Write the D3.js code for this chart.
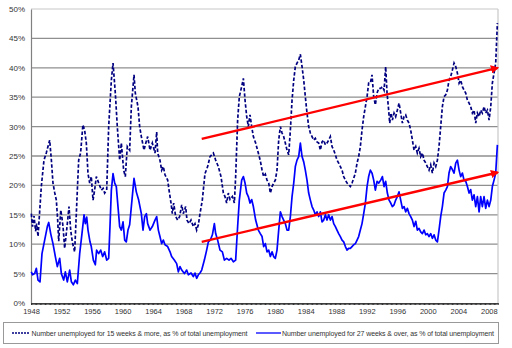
<!DOCTYPE html>
<html><head><meta charset="utf-8">
<script src="https://cdn.jsdelivr.net/npm/d3@7"></script>
<style>html,body{margin:0;padding:0;background:#fff;}svg{display:block;font-family:Arial,"Liberation Sans",sans-serif;}</style>
</head><body>
<svg id="c" width="512" height="348"></svg>
<script>
// ---- data ----
const yTicks = [0,5,10,15,20,25,30,35,40,45,50];
const xLabelYears = [1948,1952,1956,1960,1964,1968,1972,1976,1980,1984,1988,1992,1996,2000,2004,2008];

const years15 = [1948.04,1948.2,1948.4,1948.6,1948.75,1948.92,1949.35,1949.7,1950.0,1950.2,1950.45,1950.67,1950.88,1951.1,1951.32,1951.5,1951.63,1951.9,1952.05,1952.2,1952.41,1952.6,1952.76,1952.98,1953.2,1953.35,1953.5,1953.72,1953.9,1954.1,1954.25,1954.5,1954.8,1955.03,1955.25,1955.47,1955.69,1955.9,1956.13,1956.34,1956.56,1956.87,1957.22,1957.45,1957.65,1957.92,1958.18,1958.53,1958.75,1959.05,1959.31,1959.62,1959.84,1960.14,1960.36,1960.62,1960.93,1961.15,1961.5,1961.67,1962.02,1962.24,1962.46,1962.81,1963.0,
1963.29,1963.6,1963.9,1964.25,1964.47,1964.6,1964.9,1965.12,1965.34,1965.56,1965.91,1966.09,1966.35,1966.52,1966.7,1966.96,1967.22,1967.48,1967.75,1967.96,1968.27,1968.44,1968.71,1968.97,1969.27,1969.49,1969.71,1969.93,1970.15,1970.45,1970.8,1971.15,1971.46,1971.9,1972.2,1972.55,1972.9,1973.21,1973.42,1973.64,1973.86,1974.08,1974.39,1974.65,1974.82,1975.08,1975.3,1975.61,1975.83,1976.05,1976.27,1976.48,1976.7,1976.92,1977.14,1977.44,1977.79,1978.05,
1978.28,1978.49,1978.71,1978.93,1979.15,1979.37,1979.59,1979.8,1980.02,1980.24,1980.46,1980.68,1980.9,1981.11,1981.33,1981.55,1981.77,1981.99,1982.21,1982.43,1982.64,1982.86,1983.08,1983.3,1983.52,1983.74,1983.95,1984.17,1984.39,1984.61,1984.83,1985.05,1985.26,1985.48,1985.7,1985.92,1986.14,1986.36,1986.58,1986.79,1987.01,1987.23,1987.45,1987.67,1987.89,1988.1,1988.32,1988.54,1988.76,1988.98,1989.2,1989.42,1989.63,1989.85,1990.07,1990.29,1990.51,1990.73,1990.94,1991.16,1991.38,1991.6,1991.82,1992.04,1992.25,1992.47,1992.69,1992.91,1993.13,1993.35,1993.57,
1993.83,1994.05,1994.27,1994.48,1994.66,1994.83,1995.01,1995.18,1995.36,1995.58,1995.79,1996.01,1996.23,1996.45,1996.67,1996.89,1997.1,1997.32,1997.54,1997.76,1997.98,1998.2,1998.42,1998.63,1998.85,1999.07,1999.29,1999.51,1999.73,1999.94,2000.16,2000.38,2000.6,2000.82,2001.04,2001.26,2001.47,2001.69,2001.91,2002.13,2002.35,2002.57,2002.78,2003.0,2003.22,2003.44,2003.66,2003.88,2004.1,2004.31,2004.53,2004.75,2004.97,2005.19,2005.41,2005.62,2005.84,2006.06,2006.28,2006.5,2006.72,2006.93,2007.15,2007.37,2007.59,2007.81,2008.03,2008.25,2008.46,2008.68,2008.9,2009.12];
const pct15 = [15.2,13.0,14.8,12.2,13.5,11.3,19.8,24.3,25.5,26.5,27.7,24.3,20.4,18.8,17.5,14.0,10.5,15.8,14.5,13.0,9.3,11.5,13.5,16.4,12.4,11.0,9.9,8.7,14.0,20.0,24.3,25.5,30.3,29.4,27.2,22.0,20.4,21.5,17.5,19.2,21.5,20.4,19.2,19.5,18.7,19.2,30.0,37.9,40.8,35.7,30.0,24.3,27.2,22.6,21.5,26.6,26.0,33.4,38.8,35.7,33.4,30.0,28.3,26.0,27.0,
28.3,26.0,27.2,25.5,29.1,25.5,24.3,22.6,23.2,21.8,20.9,19.2,17.0,15.2,17.0,14.7,14.1,14.7,16.7,15.2,16.4,14.1,13.5,14.1,13.0,13.5,12.4,13.3,15.2,17.5,22.0,23.2,24.9,25.5,24.3,23.2,21.5,18.7,18.1,17.0,18.7,17.6,18.1,17.0,21.5,31.1,35.1,36.8,38.2,34.5,31.7,30.0,32.0,30.0,28.3,27.2,25.5,24.2,
22.6,21.5,21.9,20.9,20.4,18.7,19.8,20.4,20.9,22.6,27.7,30.0,28.9,28.3,27.2,26.0,25.2,29.4,34.5,37.9,40.2,40.8,41.3,42.3,40.2,37.9,35.1,32.3,30.0,28.9,28.3,27.7,28.0,27.4,27.2,26.0,27.4,27.7,26.9,27.2,27.7,28.3,26.6,26.0,25.2,24.3,23.8,23.2,22.6,21.5,20.9,20.4,20.1,19.8,20.4,21.2,22.1,23.8,24.9,26.6,29.4,31.7,33.4,35.1,37.4,37.4,38.8,35.1,33.7,35.7,36.5,
36.5,36.8,36.2,40.2,35.7,33.4,30.6,32.3,31.1,32.3,31.7,32.8,34.0,32.3,30.6,31.7,32.0,31.1,30.6,29.4,27.7,26.0,26.6,25.5,26.3,24.9,25.5,24.3,23.8,23.2,22.6,23.5,22.1,23.8,23.2,24.3,26.6,30.0,33.4,35.1,35.4,36.2,37.9,38.5,39.6,40.8,40.2,39.1,37.4,37.9,36.8,36.2,35.7,34.5,34.0,33.4,32.3,32.8,30.6,32.3,31.7,32.8,32.3,33.4,32.3,32.8,31.1,33.4,37.4,39.1,40.8,47.6];

const years27 = [1948.04,1948.2,1948.48,1948.7,1948.92,1949.18,1949.44,1949.79,1950.14,1950.32,1950.58,1950.88,1951.19,1951.45,1951.76,1951.98,1952.28,1952.5,1952.76,1953.07,1953.29,1953.55,1953.81,1954.07,1954.38,1954.68,1954.95,1955.12,1955.3,1955.47,1955.73,1955.9,1956.17,1956.43,1956.6,1956.87,1957.13,1957.39,1957.65,1957.92,1958.18,1958.35,1958.53,1958.75,1958.97,1959.18,1959.4,1959.62,1959.84,1960.06,1960.28,1960.49,1960.71,1960.93,1961.15,1961.5,1961.8,1962.11,1962.46,1962.68,1962.9,1963.12,
1963.29,1963.6,1963.9,1964.25,1964.47,1964.69,1964.9,1965.12,1965.34,1965.56,1965.91,1966.22,1966.43,1966.78,1967.09,1967.31,1967.53,1967.75,1968.1,1968.4,1968.62,1968.97,1969.27,1969.49,1969.71,1969.93,1970.15,1970.37,1970.72,1971.02,1971.24,1971.5,1971.77,1972.03,1972.2,1972.46,1972.77,1973.08,1973.34,1973.64,1973.95,1974.21,1974.52,1974.82,1975.08,1975.3,1975.61,1975.83,1976.05,1976.27,1976.48,1976.7,1976.92,1977.14,1977.44,1977.79,1978.05,
1978.28,1978.49,1978.71,1978.93,1979.15,1979.37,1979.59,1979.8,1980.02,1980.24,1980.46,1980.68,1980.9,1981.11,1981.33,1981.55,1981.77,1981.99,1982.21,1982.43,1982.64,1982.86,1983.08,1983.3,1983.52,1983.74,1983.95,1984.17,1984.39,1984.61,1984.83,1985.05,1985.26,1985.48,1985.7,1985.92,1986.14,1986.36,1986.58,1986.79,1987.01,1987.23,1987.45,1987.67,1987.89,1988.1,1988.32,1988.54,1988.76,1988.98,1989.2,1989.42,1989.63,1989.85,1990.07,1990.29,1990.51,1990.73,1990.94,1991.16,1991.38,1991.6,1991.82,1992.04,1992.25,1992.47,1992.69,1992.91,1993.13,1993.35,1993.57,
1993.83,1994.05,1994.27,1994.48,1994.7,1994.92,1995.14,1995.36,1995.58,1995.79,1996.01,1996.23,1996.45,1996.67,1996.89,1997.1,1997.32,1997.54,1997.76,1997.98,1998.2,1998.42,1998.63,1998.85,1999.07,1999.29,1999.51,1999.73,1999.94,2000.16,2000.38,2000.6,2000.82,2001.04,2001.26,2001.47,2001.69,2001.91,2002.13,2002.35,2002.57,2002.78,2003.0,2003.22,2003.44,2003.66,2003.88,2004.1,2004.31,2004.53,2004.75,2004.97,2005.19,2005.41,2005.62,2005.84,2006.06,2006.28,2006.5,2006.72,2006.93,2007.15,2007.37,2007.59,2007.81,2008.03,2008.25,2008.46,2008.68,2008.9,2009.12];
const pct27 = [5.3,4.8,5.0,5.9,3.9,3.6,8.4,10.7,13.0,13.7,11.8,10.1,7.9,6.2,7.6,5.0,3.9,5.3,3.6,5.6,3.6,3.1,3.9,3.3,8.4,11.8,15.0,13.5,14.6,12.4,10.4,9.6,7.3,6.5,9.0,8.4,9.0,7.9,8.7,7.3,7.6,13.0,19.2,22.0,20.4,19.8,16.4,13.0,12.4,13.8,10.7,10.4,12.4,13.3,16.4,21.2,18.9,17.5,15.2,12.4,14.7,15.2,
13.5,12.4,13.0,14.1,14.7,12.4,11.3,10.1,10.7,9.9,9.6,8.7,7.9,7.3,6.7,5.3,6.2,5.6,5.0,5.6,4.8,5.1,4.5,5.1,4.2,4.8,5.1,5.6,7.3,9.0,10.4,10.7,11.6,13.5,11.8,10.7,9.0,8.7,7.3,7.6,7.3,7.6,7.0,7.3,13.0,17.5,20.9,21.5,20.4,18.7,18.1,17.0,17.6,16.4,14.1,12.4,11.8,
11.3,9.6,10.1,8.7,9.0,7.9,8.7,7.9,7.6,9.0,12.4,15.5,14.7,14.1,13.5,12.4,12.4,14.7,18.1,20.4,23.2,24.3,24.9,27.2,24.9,24.0,22.6,20.9,18.7,17.5,16.4,15.8,15.0,15.5,14.7,15.5,13.8,14.1,15.0,14.1,15.0,14.1,14.7,13.5,13.0,12.4,11.8,11.3,10.7,10.4,9.6,9.0,9.3,9.3,9.6,9.9,10.1,10.7,11.3,12.4,13.5,15.2,17.0,19.8,21.5,22.6,22.1,20.9,19.2,20.7,20.4,
20.9,21.5,19.8,20.7,18.7,17.5,17.0,16.4,16.7,17.5,18.1,18.9,17.5,16.1,16.4,15.5,16.1,15.2,14.7,14.1,13.0,13.9,12.4,12.7,12.1,11.8,12.4,11.6,11.8,11.3,11.8,11.0,11.6,10.7,10.4,12.4,14.7,16.4,18.7,19.2,19.8,22.1,23.2,22.7,22.1,23.8,24.3,22.6,21.5,22.1,20.9,20.7,19.8,18.7,19.3,17.5,18.4,16.4,18.1,15.5,18.1,16.4,18.1,16.1,17.5,16.4,17.5,19.8,20.9,22.1,26.9];

const trendYears = [1970.37, 2009.15];
const trendUpper = [27.9, 40.0];
const trendLower = [10.4, 22.2];

const legendLabels = ["Number unemployed  for 15 weeks & more, as % of total unemployment",
                      "Number unemployed for 27 weeks & over, as % of total unemployment"];

// ---- chart ----
const svg = d3.select("#c");
const x = d3.scaleLinear().domain([1948, 2009.2]).range([31, 498]);
const y = d3.scaleLinear().domain([0, 50]).range([303, 9]);

// gridlines
svg.append("g").selectAll("line").data(yTicks.filter(d => d > 0 && d < 50)).join("line")
  .attr("x1", x(1948)).attr("x2", x(2009.2))
  .attr("y1", d => y(d)).attr("y2", d => y(d))
  .attr("stroke", "#8f8f8f").attr("stroke-width", 1.3);
// plot border top/right
svg.append("line").attr("x1", x(1948)).attr("x2", x(2009.2)).attr("y1", y(50)).attr("y2", y(50))
  .attr("stroke", "#c8c8c8").attr("stroke-width", 1.2);
svg.append("line").attr("x1", x(2009.2)).attr("x2", x(2009.2)).attr("y1", y(50)).attr("y2", y(0))
  .attr("stroke", "#c8c8c8").attr("stroke-width", 1.2);

// y axis
const yAxis = d3.axisLeft(y).tickValues(yTicks).tickFormat(d => d + "%").tickSize(0).tickPadding(6);
const gy = svg.append("g").attr("transform", `translate(${x(1948)},0)`).call(yAxis);
gy.select(".domain").attr("stroke", "#808080").attr("stroke-width", 1.2);
gy.selectAll("text").attr("font-size", 8).attr("fill", "#333");

// x axis dense ticks
const minorTicks = d3.range(0, 61.2 * 6).map(i => 1948 + i / 6);
const xAxisMinor = d3.axisBottom(x).tickValues(minorTicks).tickFormat("").tickSize(2).tickSizeOuter(0);
const gxm = svg.append("g").attr("transform", `translate(0,${y(0)})`).call(xAxisMinor);
gxm.select(".domain").attr("stroke", "#555").attr("stroke-width", 1.2);
gxm.selectAll(".tick line").attr("stroke", "#333");

const xAxis = d3.axisBottom(x).tickValues(xLabelYears).tickFormat(d3.format("d")).tickSize(0).tickPadding(6);
const gx = svg.append("g").attr("transform", `translate(0,${y(0)})`).call(xAxis);
gx.select(".domain").remove();
gx.selectAll("text").attr("font-size", 7.5).attr("fill", "#333");

// series
const s15 = years15.map((t, i) => [t, pct15[i]]);
const s27 = years27.map((t, i) => [t, pct27[i]]);
const line = d3.line().x(d => x(d[0])).y(d => y(d[1]));

svg.append("path").datum(s27).attr("d", line).attr("fill", "none")
  .attr("stroke", "#0000ff").attr("stroke-width", 1.7).attr("stroke-linejoin", "round");
svg.append("path").datum(s15).attr("d", line).attr("fill", "none")
  .attr("stroke", "#000080").attr("stroke-width", 1.7).attr("stroke-dasharray", "3.5,2");

// trend arrows
const defs = svg.append("defs");
defs.append("marker").attr("id", "arr").attr("viewBox", "0 0 10 10").attr("refX", 8).attr("refY", 5)
  .attr("markerWidth", 3.5).attr("markerHeight", 3.5).attr("orient", "auto").attr("markerUnits", "strokeWidth")
  .append("path").attr("d", "M0,0 L10,5 L0,10 z").attr("fill", "#ff0000");
[trendUpper, trendLower].forEach(v => {
  svg.append("path").datum(trendYears.map((t, i) => [t, v[i]])).attr("d", line)
    .attr("fill", "none").attr("stroke", "#ff0000").attr("stroke-width", 2.4)
    .attr("marker-end", "url(#arr)");
});

// legend
const lg = svg.append("g");
lg.append("rect").attr("x", 3.5).attr("y", 322.5).attr("width", 495).attr("height", 21)
  .attr("fill", "#fff").attr("stroke", "#999").attr("stroke-width", 1);
lg.append("line").attr("x1", 12).attr("x2", 30).attr("y1", 333).attr("y2", 333)
  .attr("stroke", "#000080").attr("stroke-width", 1.3).attr("stroke-dasharray", "2,1");
lg.append("text").attr("x", 31.5).attr("y", 335.5).attr("font-size", 7).attr("fill", "#333")
  .attr("textLength", 216).attr("lengthAdjust", "spacing").text(legendLabels[0]);
lg.append("line").attr("x1", 256).attr("x2", 281).attr("y1", 333).attr("y2", 333)
  .attr("stroke", "#0000ff").attr("stroke-width", 1.3);
lg.append("text").attr("x", 282).attr("y", 335.5).attr("font-size", 7).attr("fill", "#333")
  .attr("textLength", 212).attr("lengthAdjust", "spacing").text(legendLabels[1]);
</script>
</body></html>
